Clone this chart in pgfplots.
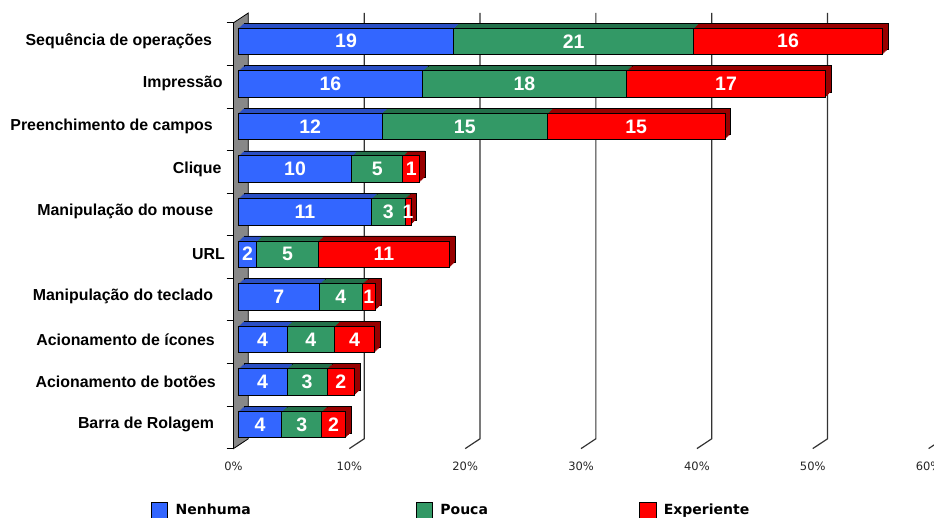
\documentclass[border=0pt]{standalone}
\usepackage{pgfplots}
\pgfplotsset{compat=1.18}
\usepackage{pgfplotstable}
\usepackage{fontspec}
\setmainfont{Liberation Sans}
\newfontfamily\dejavu{DejaVu Sans}
\definecolor{cBlue}{HTML}{3366FF}
\definecolor{cGreen}{HTML}{339966}
\definecolor{cRed}{HTML}{FF0000}
\definecolor{dBlue}{HTML}{2A4FC4}
\definecolor{dGreen}{HTML}{23704A}
\definecolor{dRed}{HTML}{990000}
\definecolor{wallgray}{HTML}{888888}

\pgfplotstableread{
y pct lab
0 3.75 4
1 4.2 4
2 4.2 4
3 7.0 7
4 1.6 2
5 11.5 11
6 9.8 10
7 12.4 12
8 15.9 16
9 18.6 19
}\nenhuma
\pgfplotstableread{
y pct lab
0 3.45 3
1 3.45 3
2 4.1 4
3 3.7 4
4 5.3 5
5 2.9 3
6 4.4 5
7 14.3 15
8 17.6 18
9 20.7 21
}\pouca
\pgfplotstableread{
y pct lab
0 2.05 2
1 2.4 2
2 3.45 4
3 1.15 1
4 11.35 11
5 0.5 1
6 1.45 1
7 15.3 15
8 17.2 17
9 16.3 16
}\experiente

\pgfplotsset{
  base/.style={
    x=11.585pt, y=42.58pt,
    xmin=0, xmax=60, ymin=-0.5, ymax=9.5,
    anchor=south west, clip=false,
  },
  copyax/.style={base, at={(238.3pt+#1*1.1pt,72.2pt+#1*1.0pt)}, hide axis,
    xbar stacked, bar width=26.5pt},
}

\begin{document}
\begin{tikzpicture}
% ---- back: wall, grid, x tick labels (front floor plane)
\begin{axis}[base, at={(233.5pt,69.4pt)},
  axis line style={draw=none},
  tick style={draw=none}, major tick length=0pt,
  xtick={0,10,...,60},
  xticklabels={0\%,10\%,20\%,30\%,40\%,50\%,60\%},
  ytick=\empty,
  xticklabel style={anchor=center, yshift=-17.7pt, inner sep=0pt,
    font=\dejavu\fontsize{11.5}{13}\selectfont, text=black!85},
]
\filldraw[fill=wallgray, draw=black, line width=0.8pt]
  (axis cs:0,-0.5) -- (axis cs:0,9.5)
  -- ([shift={(14.8pt,9.8pt)}]axis cs:0,9.5)
  -- ([shift={(14.8pt,9.8pt)}]axis cs:0,-0.5) -- cycle;
\pgfplotsinvokeforeach{10,20,...,60}{
  \draw[black!80, line width=1.2pt]
    ([shift={(14.8pt,9.8pt)}]axis cs:#1,9.5)
    -- ([shift={(14.8pt,9.8pt)}]axis cs:#1,-0.5)
    -- (axis cs:#1,-0.5);
}
\pgfplotsinvokeforeach{-0.5,0.5,...,9.5}{
  \draw[black, line width=0.8pt] ([xshift=-6.8pt]axis cs:0,#1) -- (axis cs:0,#1);
}
\end{axis}
% ---- depth copies (top/right faces)
\begin{axis}[copyax=5]
\addplot[fill=dBlue, draw=black, line width=0.5pt] table[x=pct,y=y]{\nenhuma};
\addplot[fill=dGreen, draw=black, line width=0.5pt] table[x=pct,y=y]{\pouca};
\addplot[fill=dRed, draw=black, line width=0.5pt] table[x=pct,y=y]{\experiente};
\end{axis}
\begin{axis}[copyax=4]
\addplot[fill=dBlue, draw=none] table[x=pct,y=y]{\nenhuma};
\addplot[fill=dGreen, draw=none] table[x=pct,y=y]{\pouca};
\addplot[fill=dRed, draw=none] table[x=pct,y=y]{\experiente};
\end{axis}
\begin{axis}[copyax=3]
\addplot[fill=dBlue, draw=none] table[x=pct,y=y]{\nenhuma};
\addplot[fill=dGreen, draw=none] table[x=pct,y=y]{\pouca};
\addplot[fill=dRed, draw=none] table[x=pct,y=y]{\experiente};
\end{axis}
\begin{axis}[copyax=2]
\addplot[fill=dBlue, draw=none] table[x=pct,y=y]{\nenhuma};
\addplot[fill=dGreen, draw=none] table[x=pct,y=y]{\pouca};
\addplot[fill=dRed, draw=none] table[x=pct,y=y]{\experiente};
\end{axis}
\begin{axis}[copyax=1]
\addplot[fill=dBlue, draw=none] table[x=pct,y=y]{\nenhuma};
\addplot[fill=dGreen, draw=none] table[x=pct,y=y]{\pouca};
\addplot[fill=dRed, draw=none] table[x=pct,y=y]{\experiente};
\end{axis}
% ---- front faces, labels, legend
\begin{axis}[base, at={(238.3pt,72.2pt)},
  xbar stacked, bar width=26.5pt,
  axis line style={draw=none},
  tick style={draw=none}, major tick length=0pt,
  xtick=\empty,
  ytick={0,...,9},
  yticklabels={Barra de Rolagem\kern8.4pt,
    Acionamento de botões\kern6.7pt,
    Acionamento de ícones\kern7.7pt,
    Manipulação do teclado\kern9.4pt,
    URL\kern-2.3pt,
    Manipulação do mouse\kern9.4pt,
    Clique\kern1pt,
    Preenchimento de campos\kern9.7pt,
    Impressão,
    Sequência de operações\kern10.4pt},
  yticklabel style={anchor=east, inner sep=0pt, xshift=-15.6pt,
    font=\fontsize{15.9}{18}\selectfont\bfseries},
  point meta=explicit symbolic,
  nodes near coords,
  every node near coord/.append style={anchor=center, text=white,
    inner sep=0pt, font=\fontsize{19.5}{21}\selectfont\bfseries},
  legend columns=3,
  legend cell align=left,
  legend style={at={(axis description cs:0,0)}, anchor=north west,
    xshift=-87.3pt, yshift=-56.5pt, draw=none, fill=none,
    inner sep=0pt, outer sep=0pt, nodes={inner sep=0pt},
    font=\dejavu\bfseries\fontsize{14}{16}\selectfont,
    /tikz/every odd column/.append style={column sep=7.5pt},
    /tikz/every even column/.append style={column sep=0pt}},
  legend image code/.code={\draw[#1, draw=black, line width=0.7pt] (0pt,-10pt) rectangle (16.5pt,7pt);},
]
\addplot[fill=cBlue, draw=black, line width=0.7pt] table[x=pct,y=y,meta=lab]{\nenhuma};
\addlegendentry{\makebox[240pt][l]{\vphantom{Nhp}Nenhuma}}
\addplot[fill=cGreen, draw=black, line width=0.7pt] table[x=pct,y=y,meta=lab]{\pouca};
\addlegendentry{\makebox[198.7pt][l]{\vphantom{Nhp}Pouca}}
\addplot[fill=cRed, draw=black, line width=0.7pt] table[x=pct,y=y,meta=lab]{\experiente};
\addlegendentry{\vphantom{Nhp}Experiente}
\end{axis}
\pgfresetboundingbox
\path[use as bounding box] (0pt,0pt) rectangle (934pt,518pt);
\end{tikzpicture}
\end{document}
